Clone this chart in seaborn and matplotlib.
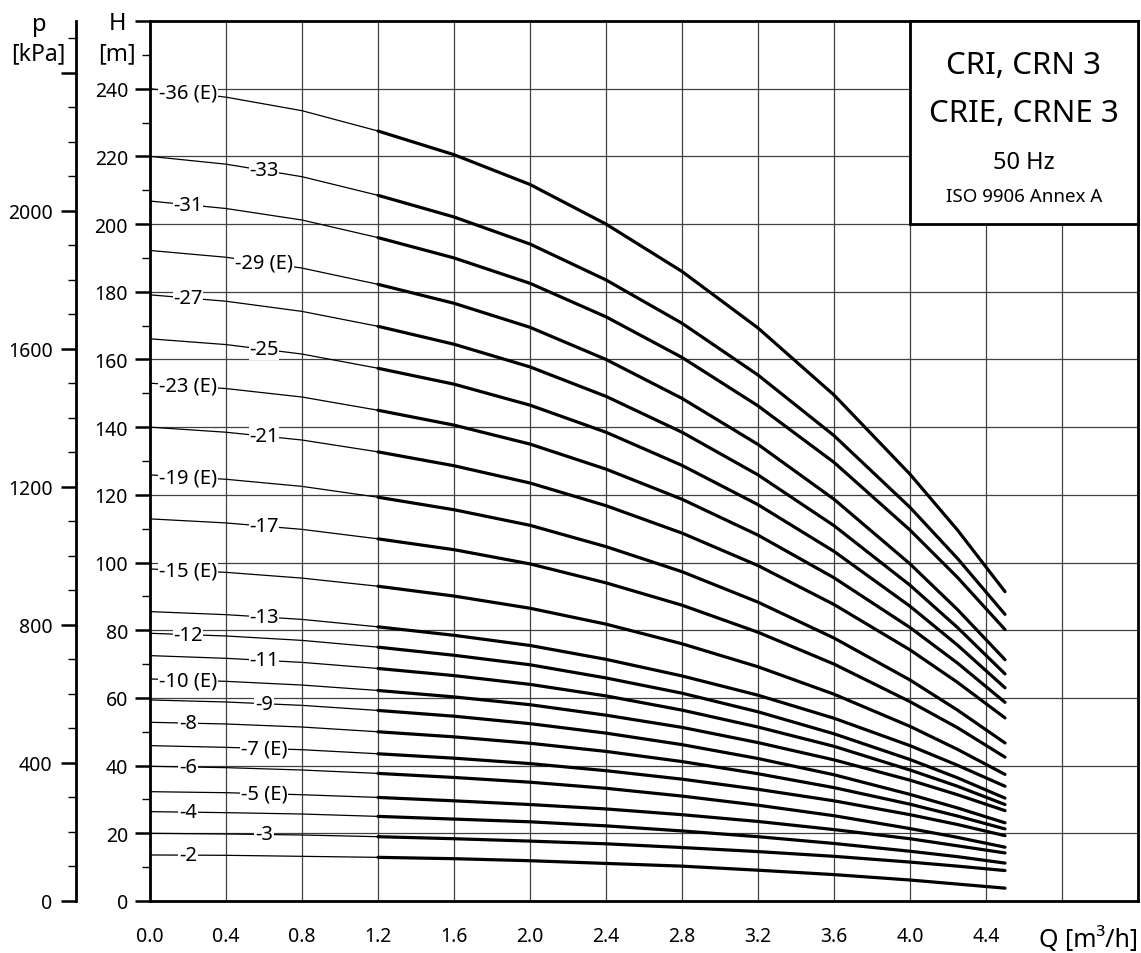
import matplotlib
matplotlib.use('Agg')
import matplotlib.pyplot as plt
import seaborn as sns
import numpy as np
from matplotlib.ticker import MultipleLocator, FixedLocator
from matplotlib.patches import Rectangle

# 유량 Q [m3/h] (그래프에서 읽은 점)
q = [0.0, 0.4, 0.8, 1.2, 1.6, 2.0, 2.4, 2.8, 3.2, 3.6, 4.0, 4.25, 4.5]

# 양정 H [m] - 단수별 곡선
h_36 = [240.0, 237.5, 233.5, 227.5, 220.5, 211.7, 200.0, 186.0, 169.3, 149.5, 126.1, 109.6, 91.4]
h_33 = [220.0, 217.7, 214.0, 208.5, 202.1, 194.1, 183.5, 170.7, 155.4, 137.5, 116.3, 101.2, 84.7]
h_31 = [206.8, 204.6, 201.2, 196.0, 190.0, 182.5, 172.6, 160.6, 146.3, 129.6, 109.6, 95.6, 80.2]
h_29 = [192.2, 190.2, 187.0, 182.2, 176.6, 169.5, 160.0, 148.5, 134.9, 118.7, 99.6, 86.1, 71.3]
h_27 = [179.1, 177.2, 174.2, 169.8, 164.5, 157.8, 149.1, 138.5, 125.9, 110.9, 93.3, 80.8, 67.1]
h_25 = [166.1, 164.4, 161.6, 157.4, 152.7, 146.5, 138.5, 128.7, 117.1, 103.3, 87.1, 75.6, 63.0]
h_23 = [153.0, 151.4, 148.9, 145.0, 140.6, 135.0, 127.6, 118.7, 108.1, 95.5, 80.8, 70.3, 58.7]
h_21 = [140.0, 138.5, 136.2, 132.7, 128.6, 123.5, 116.8, 108.7, 99.1, 87.6, 74.2, 64.6, 54.1]
h_19 = [125.9, 124.6, 122.5, 119.3, 115.6, 111.0, 104.7, 97.3, 88.3, 77.7, 65.3, 56.4, 46.7]
h_17 = [112.9, 111.7, 109.8, 107.0, 103.8, 99.6, 94.0, 87.4, 79.4, 70.0, 58.9, 51.2, 42.5]
h_15 = [98.1, 97.1, 95.4, 93.0, 90.1, 86.5, 81.8, 76.0, 69.2, 61.1, 51.6, 44.8, 37.4]
h_13 = [85.5, 84.6, 83.2, 81.0, 78.5, 75.5, 71.4, 66.5, 60.8, 54.0, 45.9, 40.1, 33.9]
h_12 = [79.1, 78.3, 77.0, 75.0, 72.6, 69.8, 65.9, 61.4, 55.9, 49.4, 41.8, 36.4, 30.4]
h_11 = [72.5, 71.7, 70.5, 68.7, 66.6, 64.0, 60.6, 56.4, 51.4, 45.7, 38.7, 33.9, 28.5]
h_10 = [65.6, 64.9, 63.8, 62.2, 60.3, 58.0, 54.9, 51.3, 46.8, 41.7, 35.7, 31.4, 26.7]
h_9 = [59.4, 58.8, 57.8, 56.3, 54.6, 52.4, 49.6, 46.2, 42.1, 37.3, 31.5, 27.5, 23.1]
h_8 = [52.8, 52.3, 51.4, 50.0, 48.5, 46.6, 44.2, 41.2, 37.6, 33.5, 28.6, 25.1, 21.3]
h_7 = [45.9, 45.4, 44.7, 43.5, 42.2, 40.6, 38.5, 36.0, 33.0, 29.6, 25.5, 22.6, 19.3]
h_6 = [39.8, 39.4, 38.7, 37.7, 36.5, 35.1, 33.3, 31.0, 28.3, 25.2, 21.4, 18.8, 15.9]
h_5 = [32.3, 32.0, 31.4, 30.6, 29.6, 28.5, 27.2, 25.5, 23.5, 21.1, 18.4, 16.3, 14.2]
h_4 = [26.4, 26.1, 25.7, 25.0, 24.2, 23.4, 22.2, 20.7, 19.0, 17.0, 14.7, 13.1, 11.2]
h_3 = [20.0, 19.8, 19.5, 19.0, 18.4, 17.7, 16.9, 15.8, 14.6, 13.2, 11.5, 10.3, 9.0]
h_2 = [13.6, 13.5, 13.2, 12.9, 12.5, 11.9, 11.1, 10.3, 9.1, 7.8, 6.2, 5.0, 3.8]

curve_names = ['-36 (E)', '-33', '-31', '-29 (E)', '-27', '-25', '-23 (E)', '-21', '-19 (E)',
               '-17', '-15 (E)', '-13', '-12', '-11', '-10 (E)', '-9', '-8', '-7 (E)', '-6',
               '-5 (E)', '-4', '-3', '-2']
curve_heads = [h_36, h_33, h_31, h_29, h_27, h_25, h_23, h_21, h_19, h_17, h_15, h_13,
               h_12, h_11, h_10, h_9, h_8, h_7, h_6, h_5, h_4, h_3, h_2]

# 눈금
x_ticks = [0.0, 0.4, 0.8, 1.2, 1.6, 2.0, 2.4, 2.8, 3.2, 3.6, 4.0, 4.4, 4.8, 5.2]
x_tick_labels = ['0.0', '0.4', '0.8', '1.2', '1.6', '2.0', '2.4', '2.8', '3.2', '3.6', '4.0', '4.4', '', '']
h_ticks = [0, 20, 40, 60, 80, 100, 120, 140, 160, 180, 200, 220, 240, 260]
h_tick_labels = ['0', '20', '40', '60', '80', '100', '120', '140', '160', '180', '200', '220', '240', '']
p_ticks = [0, 400, 800, 1200, 1600, 2000, 2400]
p_tick_labels = ['0', '400', '800', '1200', '1600', '2000', '']

title_lines = ['CRI, CRN 3', 'CRIE, CRNE 3', '50 Hz', 'ISO 9906 Annex A']

sns.set_style('white')
plt.rcParams['font.family'] = ['Noto Sans', 'DejaVu Sans']
plt.rcParams['text.color'] = 'black'
plt.rcParams['xtick.color'] = 'black'
plt.rcParams['ytick.color'] = 'black'

W, H = 1141, 954
fig = plt.figure(figsize=(W / 100, H / 100), dpi=100)
fig.patch.set_facecolor('white')
ax = fig.add_axes([150 / W, 52 / H, 988 / W, 880 / H])

# 곡선: 0~1.2 얇은선, 1.2~4.5 굵은선
for h in curve_heads:
    sns.lineplot(x=q[:4], y=h[:4], ax=ax, color='black', linewidth=0.9,
                 estimator=None, sort=False, zorder=3)
    sns.lineplot(x=q[3:], y=h[3:], ax=ax, color='black', linewidth=2.3,
                 estimator=None, sort=False, zorder=3, solid_capstyle='round',
                 solid_joinstyle='round')

# 곡선 라벨 (선 위에 흰 배경)
label_q = [0.2, 0.6] * 12
for i, (name, h) in enumerate(zip(curve_names, curve_heads)):
    lq = label_q[i]
    ax.text(lq, np.interp(lq, q, h), name, ha='center', va='center', fontsize=14.5,
            color='black', zorder=5,
            bbox=dict(facecolor='white', edgecolor='none', pad=0.5))

ax.set_xlim(0, 5.2)
ax.set_ylim(0, 260)
ax.set_xlabel('')
ax.set_ylabel('')
ax.set_xticks(x_ticks)
ax.set_xticklabels(x_tick_labels)
ax.set_yticks(h_ticks)
ax.set_yticklabels(h_tick_labels)
ax.xaxis.set_minor_locator(MultipleLocator(0.2))
ax.yaxis.set_minor_locator(MultipleLocator(10))
ax.grid(True, which='major', color='#404040', linewidth=0.9)
ax.set_axisbelow(True)
for s in ax.spines.values():
    s.set_color('black')
    s.set_linewidth(2)
ax.tick_params(which='major', direction='out', length=10.8, width=1.8, color='black',
               labelsize=14, labelcolor='black')
ax.tick_params(which='minor', direction='out', length=5.8, width=1, color='black')
ax.tick_params(axis='x', which='major', pad=7)
ax.tick_params(axis='y', which='major', pad=5)

# 압력축 p [kPa]
ax_p = ax.twinx()
ax_p.set_ylim(0, 260 * 9.807)
for s in ['top', 'right', 'bottom']:
    ax_p.spines[s].set_visible(False)
ax_p.spines['left'].set_visible(True)
ax_p.spines['left'].set_color('black')
ax_p.spines['left'].set_linewidth(2)
ax_p.spines['left'].set_position(('outward', 74 * 0.72))
ax_p.yaxis.set_ticks_position('left')
ax_p.yaxis.set_major_locator(FixedLocator(p_ticks))
ax_p.set_yticklabels(p_tick_labels)
ax_p.yaxis.set_minor_locator(MultipleLocator(100))
ax_p.tick_params(which='major', direction='out', length=10.8, width=1.8, color='black',
                 labelsize=14, labelcolor='black', pad=6)
ax_p.tick_params(which='minor', direction='out', length=5.8, width=1, color='black')
ax_p.grid(False)

# 축 이름
fig.text(117 / W, 1 - 24 / H, 'H', ha='center', va='center', fontsize=17)
fig.text(117 / W, 1 - 54 / H, '[m]', ha='center', va='center', fontsize=17)
fig.text(39 / W, 1 - 25 / H, 'p', ha='center', va='center', fontsize=17)
fig.text(38 / W, 1 - 54 / H, '[kPa]', ha='center', va='center', fontsize=16.5)
fig.text(1138 / W, 1 - 940 / H, 'Q [m³/h]', ha='right', va='center', fontsize=18)

# 제목 상자
ax.add_patch(Rectangle((4.0, 200), 1.2, 60, facecolor='white', edgecolor='black',
                       linewidth=2, zorder=6, clip_on=False))
title_y = [244.6, 230.5, 216.5, 206.8]
title_size = [22.5, 22.5, 17, 13.5]
for t, y, fs in zip(title_lines, title_y, title_size):
    ax.text(4.6, y, t, ha='center', va='baseline', fontsize=fs, color='black', zorder=7)

fig.savefig('out.png', dpi=100, facecolor='white')
